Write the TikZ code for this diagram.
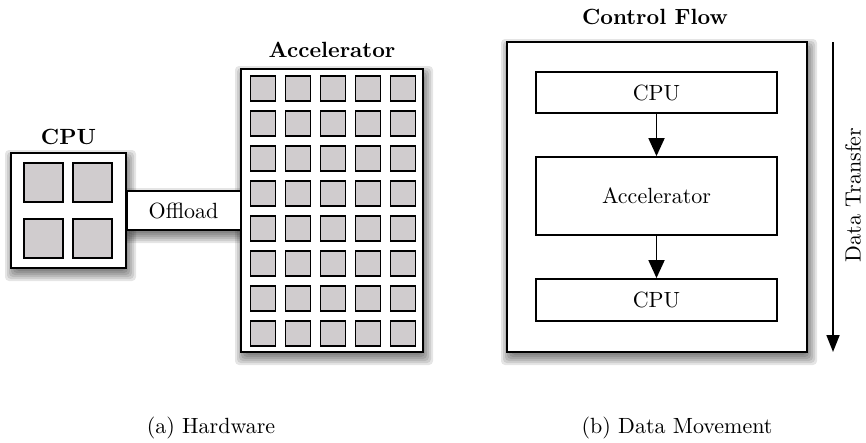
\documentclass[tikz,border=0pt]{standalone}
\usepackage{fontspec}
\setmainfont{lmroman10-regular.otf}[BoldFont=lmroman10-bold.otf]
\usetikzlibrary{arrows.meta,positioning}
\definecolor{sqgray}{RGB}{208,204,206}
\pgfdeclarelayer{shadow}
\pgfsetlayers{shadow,main}
\newcommand\mkshadow[1]{%
  \begin{pgfonlayer}{shadow}
  \foreach \e in {7,5,3,1,-1,-3}{
    \fill[black,opacity=0.1,rounded corners=4pt]
      ([shift={(2-\e,5-\e)}]#1.north west) rectangle ([shift={(2+\e,5+\e)}]#1.south east);
  }
  \end{pgfonlayer}}
\begin{document}
\begin{tikzpicture}[x=1pt,y=-1pt,
  every node/.style={font=\fontsize{22}{26}\selectfont, inner sep=0pt},
  outerbox/.style={draw=black, fill=white, line width=2pt},
  innerbox/.style={draw=black, fill=white, line width=1.8pt},
  sq/.style={draw=black, fill=sqgray, line width=1.8pt},
  lbl/.style={font=\fontsize{22}{26}\selectfont\bfseries},
  flow/.style={line width=1.8pt, -{Triangle[width=16pt,length=18pt]}},
  dflow/.style={line width=1.8pt, -{Triangle[width=13pt,length=17pt]}}]
\useasboundingbox (0,0) rectangle (866,442);
% ---- (a) Hardware ----
\node[outerbox, minimum width=115pt, minimum height=115pt] (cpu) at (68.5,210.5) {};
\node[outerbox, minimum width=182pt, minimum height=283pt] (acc) at (332,210.5) {};
\node[outerbox, minimum width=114pt, minimum height=39pt] (off) at (183.5,210.5) {Offload};
\mkshadow{cpu}
\mkshadow{acc}
\mkshadow{off}
\foreach \i/\x in {1/43.5,2/92.5}{
  \foreach \j/\y in {1/182.5,2/238.5}{
    \node[sq, minimum width=38.5pt, minimum height=39pt] (cpusq-\i-\j) at (\x,\y) {};
  }
}
\foreach \i in {0,...,4}{
  \foreach \j in {0,...,7}{
    \node[sq, minimum width=25pt, minimum height=24.5pt] (accsq-\i-\j) at (263+35*\i, 88.5+35*\j) {};
  }
}
\node[lbl] (cpulbl) at (68.5,137) {CPU};
\node[lbl] (acclbl) at (332,50) {Accelerator};
% ---- (b) Data Movement ----
\node[outerbox, minimum width=300pt, minimum height=310pt] (panel) at (657,197) {};
\mkshadow{panel}
\node[innerbox, minimum width=241pt, minimum height=41pt] (cpuA) at (656.5,92.5) {CPU};
\node[innerbox, minimum width=241pt, minimum height=78pt] (accB) at (656.5,196) {Accelerator};
\node[innerbox, minimum width=241pt, minimum height=42pt] (cpuC) at (656.5,300) {CPU};
\draw[flow] (cpuA) -- (accB);
\draw[flow] (accB) -- (cpuC);
\node[lbl] (cflbl) at (655,17) {Control Flow};
\coordinate (dtop) at (833,42);
\coordinate (dbot) at (833,352);
\draw[dflow] (dtop) -- (dbot);
\node[rotate=90] (dtlbl) at (853,195) {Data Transfer};
% ---- captions ----
\node (capa) at (211,428) {(a) Hardware};
\node (capb) at (677,428) {(b) Data Movement};
\end{tikzpicture}
\end{document}
